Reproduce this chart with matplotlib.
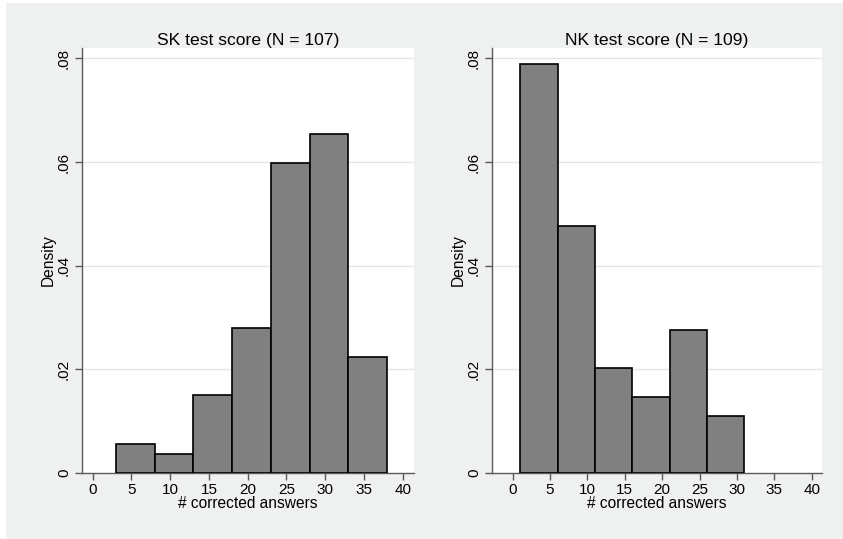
import numpy as np
import matplotlib
matplotlib.use('Agg')
import matplotlib.pyplot as plt
from matplotlib.patches import Rectangle

plt.rcParams['font.family'] = ['Liberation Sans', 'DejaVu Sans']

# ── Data ──────────────────────────────────────────────────────
sk_edges = [3, 8, 13, 18, 23, 28, 33, 38]
sk_density = [0.0056, 0.0037, 0.0150, 0.0280, 0.0598, 0.0654, 0.0224]
nk_edges = [1, 6, 11, 16, 21, 26, 31]
nk_density = [0.0789, 0.0477, 0.0202, 0.0147, 0.0275, 0.0110]

x_ticks = [0, 5, 10, 15, 20, 25, 30, 35, 40]
y_ticks = [0, 0.02, 0.04, 0.06, 0.08]
y_ticklabels = ['0', '.02', '.04', '.06', '.08']

titles = ['SK test score (N = 107)', 'NK test score (N = 109)']
xlabel = '# corrected answers'
ylabel = 'Density'

BG = '#eff1f1'
AXC = '#5a5a5a'

W, H = 843, 539
fig = plt.figure(figsize=(W / 100, H / 100), dpi=100)
fig.patch.set_facecolor('white')
# light gray graph region (thin white strip at left/top)
fig.patches.append(Rectangle((6 / W, 0), 1 - 6 / W, 1 - 3 / H,
                             transform=fig.transFigure, facecolor=BG,
                             edgecolor='none', zorder=-10))

def px(x0, x1, y0, y1):
    return [x0 / W, 1 - y1 / H, (x1 - x0) / W, (y1 - y0) / H]

panels = [
    (px(82, 414, 48, 473), sk_edges, sk_density, (-1.38, 41.46)),
    (px(492, 822, 48, 473), nk_edges, nk_density, (-2.77, 41.38)),
]

for (rect, edges, dens, xlim), title in zip(panels, titles):
    ax = fig.add_axes(rect)
    ax.set_facecolor('white')
    ax.bar(edges[:-1], dens, width=np.diff(edges), align='edge',
           color='#808080', edgecolor='black', linewidth=1.2, zorder=3)
    ax.set_xlim(*xlim)
    ax.set_ylim(0, 0.082)

    ax.set_yticks(y_ticks)
    ax.set_yticklabels(y_ticklabels, rotation=90, va='center')
    ax.set_xticks(x_ticks)
    for y in y_ticks[1:]:
        ax.axhline(y, color='#e4e6e6', linewidth=1.0, zorder=1)

    for s in ['top', 'right']:
        ax.spines[s].set_visible(False)
    for s in ['left', 'bottom']:
        ax.spines[s].set_color(AXC)
        ax.spines[s].set_linewidth(1.0)
    ax.tick_params(axis='both', colors=AXC, labelcolor='black',
                   length=5, width=1.0, labelsize=11, pad=2.5)
    ax.tick_params(axis='y', pad=3)

    ax.set_title(title, fontsize=12.6, pad=2)
    ax.set_xlabel(xlabel, fontsize=11.2, labelpad=-1)
    ax.set_ylabel(ylabel, fontsize=11.2, labelpad=1)

fig.savefig('out.png', dpi=100, facecolor=fig.get_facecolor())
